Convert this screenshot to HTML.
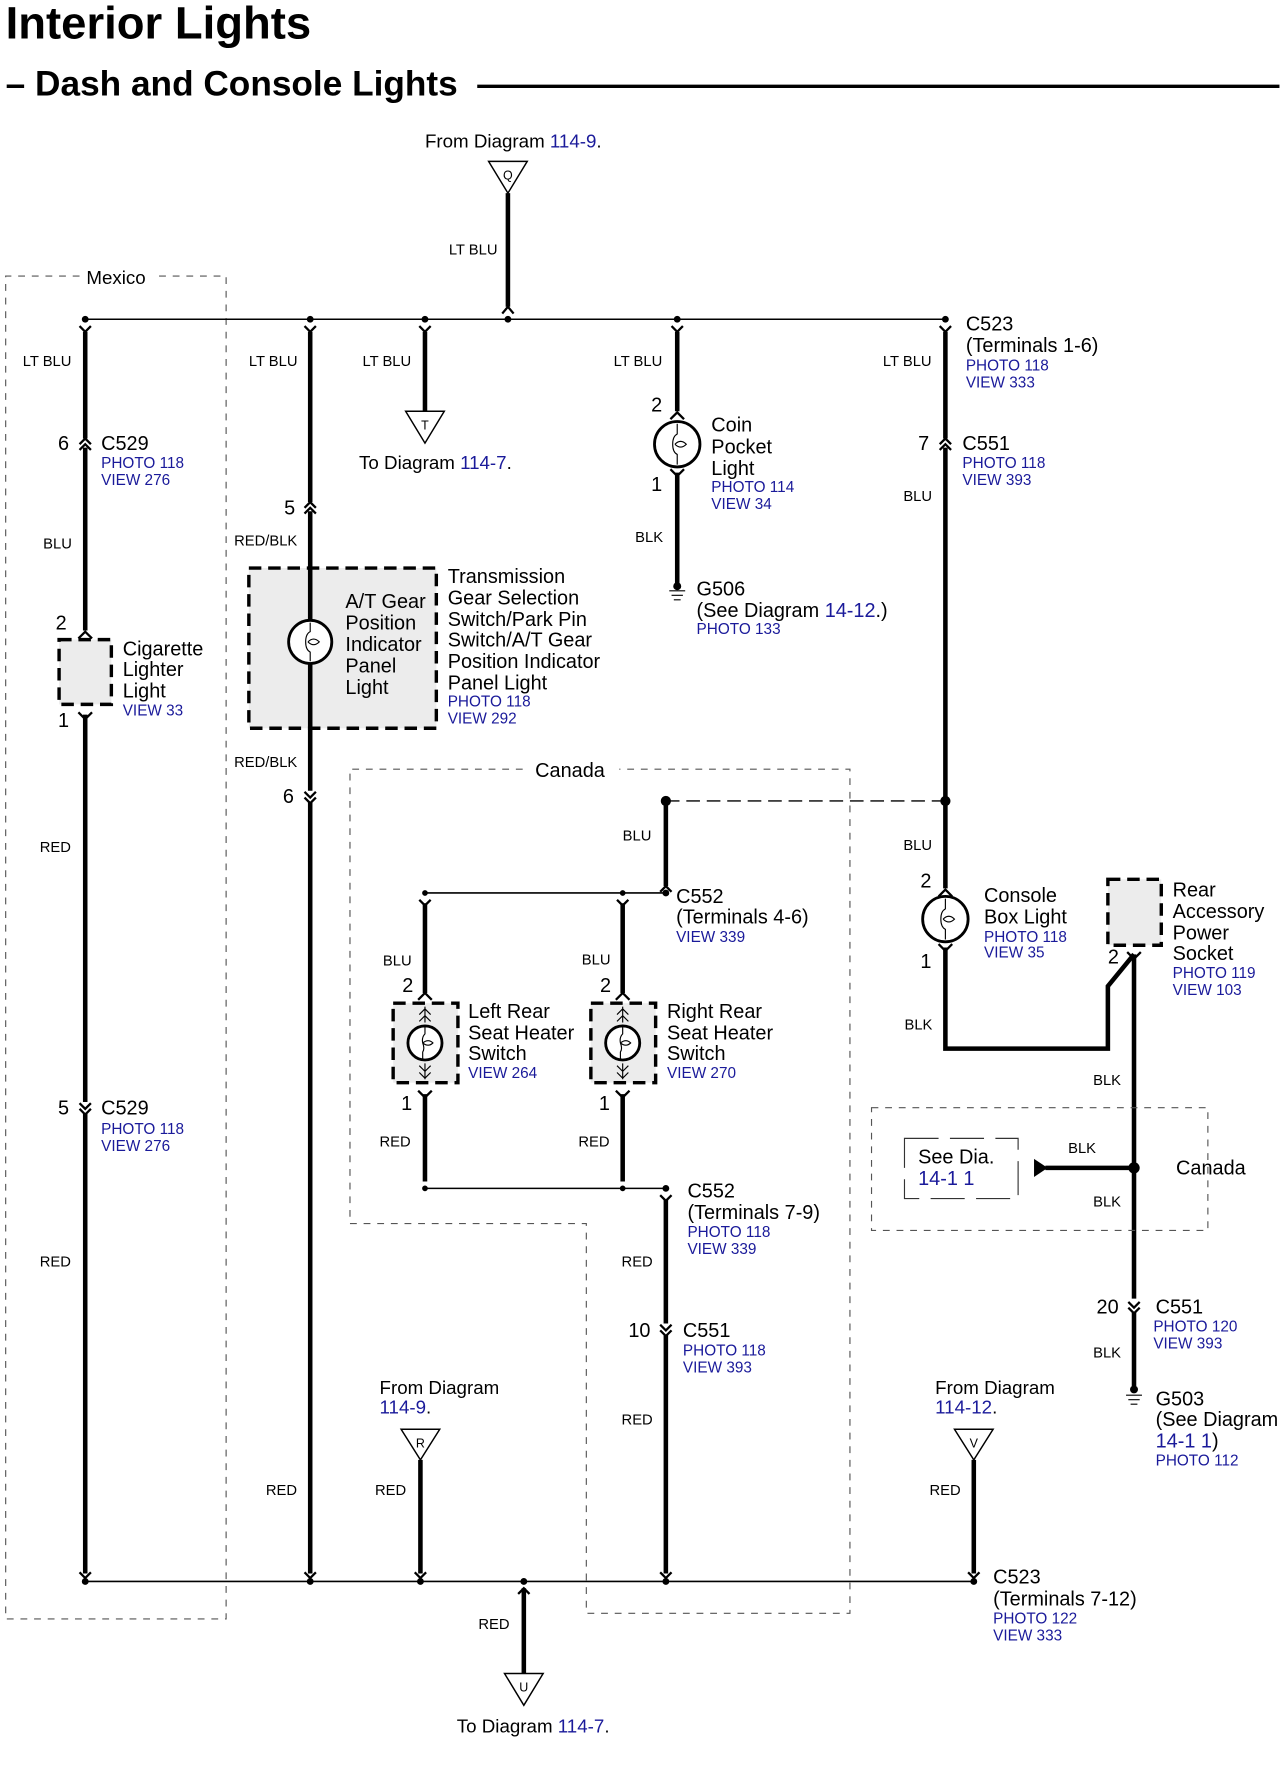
<!DOCTYPE html>
<html><head><meta charset="utf-8"><style>
html,body{margin:0;padding:0;background:#fff}
svg{display:block}
text{font-family:"Liberation Sans",sans-serif;fill:#000}
.l{font-size:17.5px}
.s{font-size:13px}
.b{fill:#1a1a9a;font-size:13.5px}
.bl{fill:#1a1a9a}
.w{stroke:#000;stroke-width:4;fill:none}
.t{stroke:#000;stroke-width:1.4;fill:none}
.c{stroke:#000;stroke-width:2;fill:none}
.d{stroke:#555;stroke-width:1;stroke-dasharray:6,6;fill:none}
.bx{stroke:#000;stroke-width:3;stroke-dasharray:11,6;fill:#ececec}
</style></head><body>
<svg width="1284" height="1778" viewBox="0 0 1130 1565" preserveAspectRatio="none" xmlns="http://www.w3.org/2000/svg">
<!-- titles -->
<text x="5" y="34" style="font-size:40px;font-weight:bold">Interior Lights</text>
<text x="5" y="84" style="font-size:31px;font-weight:bold">– Dash and Console Lights</text>
<line x1="420" y1="76" x2="1126" y2="76" stroke="#000" stroke-width="3"/>

<!-- Mexico box -->
<polyline class="d" points="70,243 5,243 5,1425 199,1425 199,243 140,243"/>
<text x="76" y="250" class="l" style="font-size:16.5px">Mexico</text>

<!-- Canada big box -->
<polyline class="d" points="460,677 308,677 308,1077 516,1077 516,1420 748,1420 748,677 545,677"/>
<text x="471" y="684" class="l">Canada</text>

<!-- Q -->
<text x="374" y="130" class="l" style="font-size:16.5px">From Diagram <tspan class="bl">114-9</tspan>.</text>
<polygon points="430,142 464,142 447,170" fill="#fff" stroke="#000" stroke-width="1.3"/>
<text x="447" y="158" text-anchor="middle" style="font-size:11px">Q</text>
<line class="w" x1="447" y1="170" x2="447" y2="270"/>
<path class="c" d="M442,276 L447,270 L452,276"/>
<text x="395" y="224" class="s">LT BLU</text>

<!-- top bus -->
<line class="t" x1="75" y1="281" x2="832" y2="281"/>
<g fill="#000"><circle cx="75" cy="281" r="3"/><circle cx="273" cy="281" r="3"/><circle cx="374" cy="281" r="3"/><circle cx="447" cy="281" r="3"/><circle cx="596" cy="281" r="3"/><circle cx="832" cy="281" r="3"/></g>
<g class="c"><path d="M70,287 L75,292 L80,287"/><path d="M268,287 L273,292 L278,287"/><path d="M369,287 L374,292 L379,287"/><path d="M591,287 L596,292 L601,287"/><path d="M827,287 L832,292 L837,287"/></g>
<text x="20" y="322" class="s">LT BLU</text>
<text x="219" y="322" class="s">LT BLU</text>
<text x="319" y="322" class="s">LT BLU</text>
<text x="540" y="322" class="s">LT BLU</text>
<text x="777" y="322" class="s">LT BLU</text>
<text x="850" y="291" class="l">C523</text>
<text x="850" y="310" class="l">(Terminals 1-6)</text>
<text x="850" y="326" class="b">PHOTO 118</text>
<text x="850" y="341" class="b">VIEW 333</text>

<!-- column 75 -->
<line class="w" x1="75" y1="292" x2="75" y2="386"/>
<path class="c" d="M70,391 L75,386 L80,391 M70,396 L75,391 L80,396"/>
<line class="w" x1="75" y1="394" x2="75" y2="555"/>
<path class="c" d="M69,562 L75,556 L81,562"/>
<text x="51" y="396" class="l">6</text>
<text x="89" y="396" class="l">C529</text>
<text x="89" y="412" class="b">PHOTO 118</text>
<text x="89" y="427" class="b">VIEW 276</text>
<text x="38" y="483" class="s">BLU</text>
<text x="49" y="554" class="l">2</text>
<rect class="bx" x="52" y="563" width="46" height="57"/>
<text x="51" y="640" class="l">1</text>
<path class="c" d="M69,627 L75,633 L81,627"/>
<line class="w" x1="75" y1="629" x2="75" y2="970"/>
<text x="108" y="577" class="l">Cigarette</text>
<text x="108" y="595" class="l">Lighter</text>
<text x="108" y="614" class="l">Light</text>
<text x="108" y="630" class="b">VIEW 33</text>
<text x="35" y="750" class="s">RED</text>
<path class="c" d="M70,971 L75,976 L80,971 M70,976 L75,981 L80,976"/>
<line class="w" x1="75" y1="980" x2="75" y2="1385"/>
<text x="51" y="981" class="l">5</text>
<text x="89" y="981" class="l">C529</text>
<text x="89" y="998" class="b">PHOTO 118</text>
<text x="89" y="1013" class="b">VIEW 276</text>
<text x="35" y="1115" class="s">RED</text>

<!-- column 273 -->
<line class="w" x1="273" y1="292" x2="273" y2="442"/>
<path class="c" d="M268,447 L273,442 L278,447 M268,452 L273,447 L278,452"/>
<line class="w" x1="273" y1="450" x2="273" y2="696"/>
<text x="250" y="453" class="l">5</text>
<text x="206" y="480" class="s">RED/BLK</text>
<rect class="bx" x="219" y="500" width="165" height="141"/>
<line class="w" x1="273" y1="500" x2="273" y2="641"/>
<circle cx="273" cy="565" r="19" fill="#fff" stroke="#000" stroke-width="2.5"/>
<path d="M273,548 v8 q-4,2 -4,9 q0,7 4,9 v8 M271,565 q5,-5 10,0 q-5,5 -10,0" stroke="#000" stroke-width="1" fill="none"/>
<text x="304" y="535" class="l">A/T Gear</text>
<text x="304" y="554" class="l">Position</text>
<text x="304" y="573" class="l">Indicator</text>
<text x="304" y="592" class="l">Panel</text>
<text x="304" y="611" class="l">Light</text>
<text x="394" y="513" class="l">Transmission</text>
<text x="394" y="532" class="l">Gear Selection</text>
<text x="394" y="551" class="l">Switch/Park Pin</text>
<text x="394" y="569" class="l">Switch/A/T Gear</text>
<text x="394" y="588" class="l">Position Indicator</text>
<text x="394" y="607" class="l">Panel Light</text>
<text x="394" y="622" class="b">PHOTO 118</text>
<text x="394" y="637" class="b">VIEW 292</text>
<text x="206" y="675" class="s">RED/BLK</text>
<text x="249" y="707" class="l">6</text>
<path class="c" d="M268,697 L273,702 L278,697 M268,702 L273,707 L278,702"/>
<line class="w" x1="273" y1="706" x2="273" y2="1385"/>
<text x="234" y="1316" class="s">RED</text>

<!-- column 374 T -->
<line class="w" x1="374" y1="292" x2="374" y2="362"/>
<polygon points="357,362 391,362 374,390" fill="#fff" stroke="#000" stroke-width="1.3"/>
<text x="374" y="378" text-anchor="middle" style="font-size:11px">T</text>
<text x="316" y="413" class="l" style="font-size:16.5px">To Diagram <tspan class="bl">114-7</tspan>.</text>

<!-- coin pocket -->
<line class="w" x1="596" y1="292" x2="596" y2="362"/>
<path class="c" d="M590,369 L596,363 L602,369"/>
<text x="573" y="362" class="l">2</text>
<circle cx="596" cy="391" r="20" fill="#fff" stroke="#000" stroke-width="2.5"/>
<path d="M596,373 v9 q-4,2 -4,9 q0,7 4,9 v9 M594,391 q5,-5 10,0 q-5,5 -10,0" stroke="#000" stroke-width="1" fill="none"/>
<text x="573" y="432" class="l">1</text>
<path class="c" d="M590,413 L596,419 L602,413"/>
<line class="w" x1="596" y1="416" x2="596" y2="515"/>
<text x="626" y="380" class="l">Coin</text>
<text x="626" y="399" class="l">Pocket</text>
<text x="626" y="418" class="l">Light</text>
<text x="626" y="433" class="b">PHOTO 114</text>
<text x="626" y="448" class="b">VIEW 34</text>
<text x="559" y="477" class="s">BLK</text>
<circle cx="596" cy="516" r="3.5"/>
<path d="M589,520 h14 M591,524 h10 M593,528 h6" stroke="#000" stroke-width="1"/>
<text x="613" y="524" class="l">G506</text>
<text x="613" y="543" class="l">(See Diagram <tspan class="bl">14-12</tspan>.)</text>
<text x="613" y="558" class="b">PHOTO 133</text>

<!-- column 832 -->
<line class="w" x1="832" y1="292" x2="832" y2="386"/>
<path class="c" d="M827,391 L832,386 L837,391 M827,396 L832,391 L837,396"/>
<line class="w" x1="832" y1="394" x2="832" y2="705"/>
<text x="808" y="396" class="l">7</text>
<text x="847" y="396" class="l">C551</text>
<text x="847" y="412" class="b">PHOTO 118</text>
<text x="847" y="427" class="b">VIEW 393</text>
<text x="795" y="441" class="s">BLU</text>
<line x1="586" y1="705" x2="832" y2="705" stroke="#000" stroke-width="1.2" stroke-dasharray="12,6"/>
<circle cx="832" cy="705" r="4.5"/>
<circle cx="586" cy="705" r="4.5"/>
<line class="w" x1="832" y1="705" x2="832" y2="782"/>
<path class="c" d="M826,789 L832,783 L838,789"/>
<text x="795" y="748" class="s">BLU</text>
<text x="810" y="781" class="l">2</text>
<circle cx="832" cy="809" r="20" fill="#fff" stroke="#000" stroke-width="2.5"/>
<path d="M832,791 v9 q-4,2 -4,9 q0,7 4,9 v9 M830,809 q5,-5 10,0 q-5,5 -10,0" stroke="#000" stroke-width="1" fill="none"/>
<text x="810" y="852" class="l">1</text>
<path class="c" d="M826,831 L832,837 L838,831"/>
<polyline class="w" points="832,834 832,923 975,923 975,868 998,840"/>
<text x="866" y="794" class="l">Console</text>
<text x="866" y="813" class="l">Box Light</text>
<text x="866" y="829" class="b">PHOTO 118</text>
<text x="866" y="843" class="b">VIEW 35</text>
<text x="796" y="906" class="s">BLK</text>
<rect class="bx" x="975" y="774" width="47" height="58"/>
<text x="975" y="848" class="l">2</text>
<path class="c" d="M992,838 L998,844 L1004,838"/>
<line class="w" x1="998" y1="840" x2="998" y2="1143"/>
<text x="1032" y="789" class="l">Rear</text>
<text x="1032" y="808" class="l">Accessory</text>
<text x="1032" y="827" class="l">Power</text>
<text x="1032" y="845" class="l">Socket</text>
<text x="1032" y="861" class="b">PHOTO 119</text>
<text x="1032" y="876" class="b">VIEW 103</text>
<text x="962" y="955" class="s">BLK</text>
<rect class="d" x="767" y="975" width="296" height="108"/>
<circle cx="998" cy="1028" r="5"/>
<line class="w" x1="920" y1="1028" x2="998" y2="1028"/>
<polygon points="910,1020 922,1028 910,1036"/>
<text x="940" y="1015" class="s">BLK</text>
<text x="962" y="1062" class="s">BLK</text>
<rect x="796" y="1002" width="100" height="53" fill="none" stroke="#333" stroke-width="1" stroke-dasharray="30,10"/>
<text x="808" y="1024" class="l">See Dia.</text>
<text x="808" y="1043" class="l bl">14-1  1</text>
<text x="1035" y="1034" class="l">Canada</text>
<path class="c" d="M993,1146 L998,1151 L1003,1146 M993,1151 L998,1156 L1003,1151"/>
<line class="w" x1="998" y1="1155" x2="998" y2="1220"/>
<text x="965" y="1156" class="l">20</text>
<text x="1017" y="1156" class="l">C551</text>
<text x="1015" y="1172" class="b">PHOTO 120</text>
<text x="1015" y="1187" class="b">VIEW 393</text>
<text x="962" y="1195" class="s">BLK</text>
<circle cx="998" cy="1223" r="3.5"/>
<path d="M991,1228 h14 M993,1232 h10 M995,1236 h6" stroke="#000" stroke-width="1"/>
<text x="1017" y="1237" class="l">G503</text>
<text x="1017" y="1255" class="l">(See Diagram</text>
<text x="1017" y="1274" class="l"><tspan class="bl">14-1  1</tspan>)</text>
<text x="1017" y="1290" class="b">PHOTO 112</text>

<!-- Canada switches -->
<line class="w" x1="586" y1="705" x2="586" y2="780"/>
<path class="c" d="M581,785 L586,780 L591,785"/>
<text x="548" y="740" class="s">BLU</text>
<line class="t" x1="374" y1="786" x2="586" y2="786"/>
<circle cx="374" cy="786" r="2.5"/><circle cx="548" cy="786" r="2.5"/><circle cx="586" cy="786" r="3"/>
<text x="595" y="795" class="l">C552</text>
<text x="595" y="813" class="l">(Terminals 4-6)</text>
<text x="595" y="829" class="b">VIEW 339</text>
<g class="c"><path d="M369,792 L374,797 L379,792"/><path d="M543,792 L548,797 L553,792"/></g>
<line class="w" x1="374" y1="795" x2="374" y2="874"/>
<line class="w" x1="548" y1="795" x2="548" y2="874"/>
<g class="c"><path d="M368,880 L374,874 L380,880"/><path d="M542,880 L548,874 L554,880"/></g>
<text x="337" y="850" class="s">BLU</text>
<text x="512" y="849" class="s">BLU</text>
<text x="354" y="873" class="l">2</text>
<text x="528" y="873" class="l">2</text>
<rect class="bx" x="346" y="883" width="57" height="70"/>
<rect class="bx" x="520" y="883" width="57" height="70"/>
<g stroke="#000" stroke-width="1" fill="none">
<path d="M374,886 v14 M369,893 l5,-5 l5,5 M369,899 l5,-5 l5,5 M374,936 v14 M369,938 l5,5 l5,-5 M369,944 l5,5 l5,-5"/>
<path d="M548,886 v14 M543,893 l5,-5 l5,5 M543,899 l5,-5 l5,5 M548,936 v14 M543,938 l5,5 l5,-5 M543,944 l5,5 l5,-5"/>
</g>
<circle cx="374" cy="918" r="15" fill="#fff" stroke="#000" stroke-width="2.5"/>
<circle cx="548" cy="918" r="15" fill="#fff" stroke="#000" stroke-width="2.5"/>
<path d="M374,904 v6 q-3,3 -2,8 q2,5 0,8 v6 M372,918 q5,-4 9,0 q-4,4 -9,0 M548,904 v6 q-3,3 -2,8 q2,5 0,8 v6 M546,918 q5,-4 9,0 q-4,4 -9,0" stroke="#000" stroke-width="1" fill="none"/>
<text x="412" y="896" class="l">Left Rear</text>
<text x="412" y="915" class="l">Seat Heater</text>
<text x="412" y="933" class="l">Switch</text>
<text x="412" y="949" class="b">VIEW 264</text>
<text x="587" y="896" class="l">Right Rear</text>
<text x="587" y="915" class="l">Seat Heater</text>
<text x="587" y="933" class="l">Switch</text>
<text x="587" y="949" class="b">VIEW 270</text>
<text x="353" y="977" class="l">1</text>
<text x="527" y="977" class="l">1</text>
<g class="c"><path d="M368,960 L374,966 L380,960"/><path d="M542,960 L548,966 L554,960"/></g>
<line class="w" x1="374" y1="963" x2="374" y2="1040"/>
<line class="w" x1="548" y1="963" x2="548" y2="1040"/>
<text x="334" y="1009" class="s">RED</text>
<text x="509" y="1009" class="s">RED</text>
<line class="t" x1="374" y1="1046" x2="586" y2="1046"/>
<circle cx="374" cy="1046" r="2.5"/><circle cx="548" cy="1046" r="2.5"/><circle cx="586" cy="1046" r="3"/>
<path class="c" d="M581,1052 L586,1057 L591,1052"/>
<line class="w" x1="586" y1="1056" x2="586" y2="1165"/>
<text x="605" y="1054" class="l">C552</text>
<text x="605" y="1073" class="l">(Terminals 7-9)</text>
<text x="605" y="1089" class="b">PHOTO 118</text>
<text x="605" y="1104" class="b">VIEW 339</text>
<text x="547" y="1115" class="s">RED</text>
<path class="c" d="M581,1166 L586,1171 L591,1166 M581,1171 L586,1176 L591,1171"/>
<line class="w" x1="586" y1="1175" x2="586" y2="1385"/>
<text x="553" y="1177" class="l">10</text>
<text x="601" y="1177" class="l">C551</text>
<text x="601" y="1193" class="b">PHOTO 118</text>
<text x="601" y="1208" class="b">VIEW 393</text>
<text x="547" y="1254" class="s">RED</text>

<!-- R -->
<text x="334" y="1227" class="l" style="font-size:16.5px">From Diagram</text>
<text x="334" y="1244" class="l bl" style="font-size:16.5px">114-9<tspan fill="#000">.</tspan></text>
<polygon points="353,1258 387,1258 370,1285" fill="#fff" stroke="#000" stroke-width="1.3"/>
<text x="370" y="1274" text-anchor="middle" style="font-size:11px">R</text>
<line class="w" x1="370" y1="1285" x2="370" y2="1385"/>
<text x="330" y="1316" class="s">RED</text>

<!-- V -->
<text x="823" y="1227" class="l" style="font-size:16.5px">From Diagram</text>
<text x="823" y="1244" class="l bl" style="font-size:16.5px">114-12<tspan fill="#000">.</tspan></text>
<polygon points="840,1258 874,1258 857,1285" fill="#fff" stroke="#000" stroke-width="1.3"/>
<text x="857" y="1274" text-anchor="middle" style="font-size:11px">V</text>
<line class="w" x1="857" y1="1285" x2="857" y2="1385"/>
<text x="818" y="1316" class="s">RED</text>

<!-- bottom bus -->
<g class="c"><path d="M70,1384 L75,1389 L80,1384"/><path d="M268,1384 L273,1389 L278,1384"/><path d="M365,1384 L370,1389 L375,1384"/><path d="M581,1384 L586,1389 L591,1384"/><path d="M852,1384 L857,1389 L862,1384"/></g>
<line class="t" x1="75" y1="1392" x2="857" y2="1392"/>
<g fill="#000"><circle cx="75" cy="1392" r="3"/><circle cx="273" cy="1392" r="3"/><circle cx="370" cy="1392" r="3"/><circle cx="461" cy="1392" r="3"/><circle cx="586" cy="1392" r="3"/><circle cx="857" cy="1392" r="3"/></g>
<path class="c" d="M456,1403 L461,1398 L466,1403"/>
<line class="w" x1="461" y1="1398" x2="461" y2="1473"/>
<text x="421" y="1434" class="s">RED</text>
<polygon points="444,1473 478,1473 461,1501" fill="#fff" stroke="#000" stroke-width="1.3"/>
<text x="461" y="1489" text-anchor="middle" style="font-size:11px">U</text>
<text x="402" y="1525" class="l" style="font-size:16.5px">To Diagram <tspan class="bl">114-7</tspan>.</text>
<text x="874" y="1394" class="l">C523</text>
<text x="874" y="1413" class="l">(Terminals 7-12)</text>
<text x="874" y="1429" class="b">PHOTO 122</text>
<text x="874" y="1444" class="b">VIEW 333</text>
</svg>
</body></html>
